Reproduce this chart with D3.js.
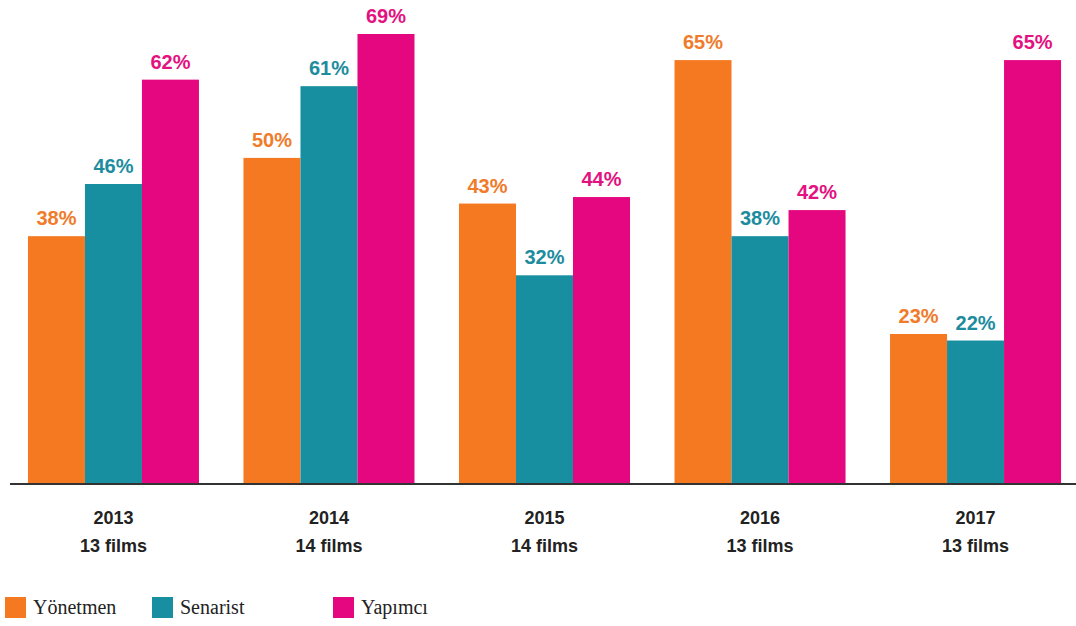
<!DOCTYPE html>
<html>
<head>
<meta charset="utf-8">
<script src="https://cdn.jsdelivr.net/npm/d3@7"></script>
<style>
  body { margin: 0; background: #fff; }
  svg { display: block; }
</style>
</head>
<body>
<svg id="chart" width="1076" height="626"></svg>
<script>
var years = ['2013', '2014', '2015', '2016', '2017']
var films = ['13 films', '14 films', '14 films', '13 films', '13 films']
var roles = ['Yönetmen', 'Senarist', 'Yapımcı']
var yonetmen = [38, 50, 43, 65, 23]
var senarist = [46, 61, 32, 38, 22]
var yapimci = [62, 69, 44, 42, 65]

var colors = ['#f47920', '#178fa0', '#e5077f']
var labelColors = ['#f07b2b', '#1c8c9e', '#e3127f']

var svg = d3.select('#chart')
var baseY = 484

var xs = d3.scaleBand().domain(years).range([5.75, 1083.25]).paddingInner(0.2065).paddingOuter(0.103)
var xi = d3.scaleBand().domain(roles).range([0, xs.bandwidth()])
var ys = d3.scaleLinear().domain([0, 69]).range([baseY, 34])

var rows = years.map((y, i) => ({
    year: y, films: films[i],
    vals: [yonetmen[i], senarist[i], yapimci[i]]
}))

var groups = svg.selectAll('.grp')
    .data(rows)
    .enter()
    .append('g')
    .attr('class', 'grp')
    .attr('transform', d => `translate(${xs(d.year)},0)`)

groups.selectAll('rect')
    .data(d => d.vals.map((v, k) => ({role: roles[k], v: v, k: k})))
    .enter()
    .append('rect')
    .attr('x', d => xi(d.role))
    .attr('width', xi.bandwidth())
    .attr('y', d => ys(d.v))
    .attr('height', d => baseY - ys(d.v))
    .style('fill', d => colors[d.k])

groups.selectAll('.val')
    .data(d => d.vals.map((v, k) => ({role: roles[k], v: v, k: k})))
    .enter()
    .append('text')
    .attr('class', 'val')
    .attr('x', d => xi(d.role) + xi.bandwidth() / 2)
    .attr('y', d => ys(d.v) - 11)
    .attr('text-anchor', 'middle')
    .style('font-family', 'Liberation Sans, Arial, sans-serif')
    .style('font-weight', 'bold')
    .style('font-size', '20px')
    .style('fill', d => labelColors[d.k])
    .text(d => d.v + '%')

// baseline
svg.append('line')
    .attr('x1', 10).attr('x2', 1076)
    .attr('y1', baseY).attr('y2', baseY)
    .style('stroke', '#333').style('stroke-width', 2)

// category labels
var lab = svg.selectAll('.cat')
    .data(rows)
    .enter()
    .append('g')
    .attr('class', 'cat')
    .attr('transform', d => `translate(${xs(d.year) + xs.bandwidth() / 2},0)`)

lab.append('text').attr('y', 524).text(d => d.year)
lab.append('text').attr('y', 552).text(d => d.films)
lab.selectAll('text')
    .attr('text-anchor', 'middle')
    .style('font-family', 'Liberation Sans, Arial, sans-serif')
    .style('font-weight', 'bold')
    .style('font-size', '18px')
    .style('fill', '#222')

// legend
var legX = [5, 152, 333]
var leg = svg.selectAll('.leg')
    .data(roles)
    .enter()
    .append('g')
    .attr('class', 'leg')
    .attr('transform', (d, i) => `translate(${legX[i]},597)`)

leg.append('rect').attr('width', 21).attr('height', 21).style('fill', (d, i) => colors[i])
leg.append('text')
    .attr('x', 28).attr('y', 17)
    .style('font-family', 'Liberation Serif, serif')
    .style('font-size', '20px')
    .style('fill', '#222')
    .text(d => d)
</script>
</body>
</html>
